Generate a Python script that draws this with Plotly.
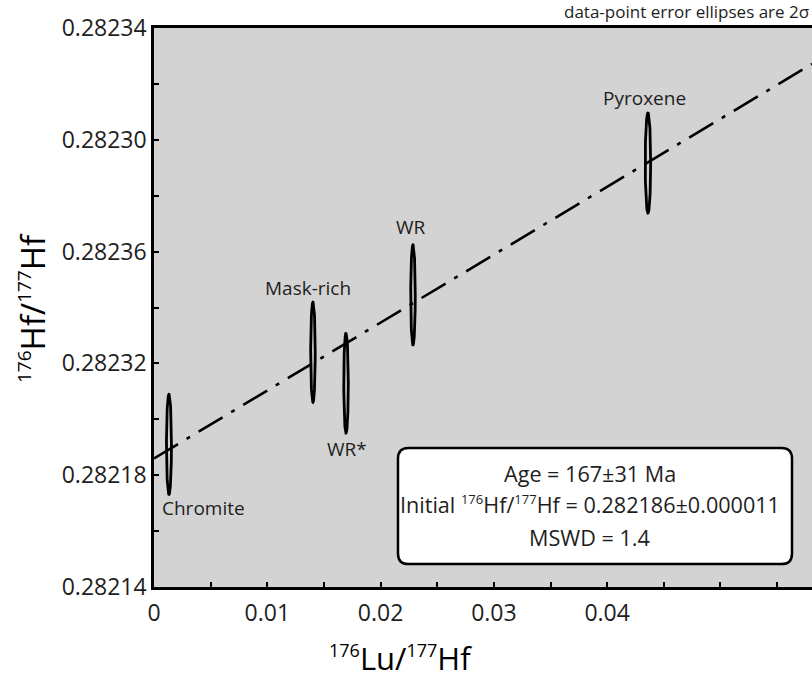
import numpy as np
import plotly.graph_objects as go

# ---- data ----
samples = ["Chromite", "Mask-rich", "WR*", "WR", "Pyroxene"]
lu_hf = [0.00132, 0.01403, 0.01695, 0.02286, 0.04360]          # 176Lu/177Hf
hf_hf = [0.282191, 0.282224, 0.282213, 0.2822445, 0.2822917]   # 176Hf/177Hf
lu_err2s = [0.00022, 0.00020, 0.00020, 0.00020, 0.00024]
hf_err2s = [0.0000179, 0.0000179, 0.0000179, 0.0000179, 0.0000179]

initial_hf = 0.282186
isochron_slope = 0.00243

y_tickvals = [0.28214, 0.28218, 0.28222, 0.28226, 0.28230, 0.28234]
y_ticktext = ["0.28214", "0.28218", "0.28232", "0.28236", "0.28230", "0.28234"]
x_tickvals = [0, 0.01, 0.02, 0.03, 0.04]
x_ticktext = ["0", "0.01", "0.02", "0.03", "0.04"]

x_range = [0, 0.05808]
y_range = [0.28214, 0.28234]

FONT = "Open Sans"

fig = go.Figure()

# isochron line
xl = np.array(x_range)
fig.add_trace(go.Scatter(
    x=xl, y=initial_hf + isochron_slope * xl, mode="lines",
    line=dict(color="black", width=2.6, dash="28px,10px,4px,10px"),
    hoverinfo="skip", showlegend=False))

# error ellipses
t = np.linspace(0, 2 * np.pi, 120)
for name, cx, cy, ex, ey in zip(samples, lu_hf, hf_hf, lu_err2s, hf_err2s):
    fig.add_trace(go.Scatter(
        x=cx + ex * np.cos(t), y=cy + ey * np.sin(t), mode="lines",
        line=dict(color="black", width=2.8), name=name, showlegend=False))

# sample labels
label_cfg = {
    "Chromite": dict(pos="below", xshift=35, yshift=-14),
    "Mask-rich": dict(pos="above", xshift=-5, yshift=14),
    "WR*": dict(pos="below", xshift=1, yshift=-16),
    "WR": dict(pos="above", xshift=-2, yshift=18),
    "Pyroxene": dict(pos="above", xshift=-3, yshift=15),
}
for name, cx, cy, ey in zip(samples, lu_hf, hf_hf, hf_err2s):
    c = label_cfg[name]
    yy = cy + ey if c["pos"] == "above" else cy - ey
    fig.add_annotation(x=cx, y=yy, text=name, showarrow=False,
                       xshift=c["xshift"], yshift=c["yshift"],
                       xanchor="center", yanchor="middle",
                       font=dict(family=FONT, size=19, color="#1e1e1e"))

# rounded result box (paper coords)
x0, x1, y0, y1 = 0.3708, 0.9696, 0.0411, 0.2487
rx, ry = 0.016, 0.019
path = (f"M {x0+rx},{y0} L {x1-rx},{y0} Q {x1},{y0} {x1},{y0+ry} "
        f"L {x1},{y1-ry} Q {x1},{y1} {x1-rx},{y1} L {x0+rx},{y1} "
        f"Q {x0},{y1} {x0},{y1-ry} L {x0},{y0+ry} Q {x0},{y0} {x0+rx},{y0} Z")
fig.add_shape(type="path", path=path, xref="paper", yref="paper",
              fillcolor="white", line=dict(color="black", width=2.5), layer="above")


def sup(s, size):
    return f"<sup><span style='font-size:{size}px'>{s}</span></sup>"


box_lines = ["Age = 167±31 Ma",
             f"Initial {sup('176', 13)}Hf/{sup('177', 13)}Hf = 0.282186±0.000011",
             "MSWD = 1.4"]
for txt, yp in zip(box_lines, [0.2039, 0.1467, 0.0894]):
    fig.add_annotation(x=0.6626, y=yp, xref="paper", yref="paper", text=txt,
                       showarrow=False, xanchor="center", yanchor="middle",
                       font=dict(family=FONT, size=21.6, color="#1e1e1e"))

fig.add_annotation(x=1.0, y=1.0, xref="paper", yref="paper",
                   text="data-point error ellipses are 2σ", showarrow=False,
                   xanchor="right", yanchor="bottom", yshift=3, xshift=-1,
                   font=dict(family=FONT, size=17, color="#1e1e1e"))

# axis titles (placed as in the reference, centred on the original wider frame)
fig.add_annotation(x=(400 - 154) / 658, y=(587 - 658) / 559, xref="paper", yref="paper",
                   text=f"{sup('176', 18)}Lu/{sup('177', 18)}Hf", showarrow=False,
                   xanchor="center", yanchor="middle",
                   font=dict(family=FONT, size=31, color="black"))
fig.add_annotation(x=(32 - 154) / 658, y=(587 - 308) / 559, xref="paper", yref="paper",
                   text=f"{sup('176', 19)}Hf/{sup('177', 19)}Hf", showarrow=False,
                   textangle=-90, xanchor="center", yanchor="middle",
                   font=dict(family=FONT, size=33, color="black"))

axis_common = dict(showline=True, linecolor="black", linewidth=2.5,
                   ticks="inside", ticklen=5, tickwidth=2, tickcolor="black",
                   showgrid=False, zeroline=False,
                   tickfont=dict(family=FONT, size=23, color="#1e1e1e"))

fig.update_xaxes(range=x_range, tickvals=x_tickvals, ticktext=x_ticktext,
                 mirror=True, ticklabelstandoff=4,
                 minor=dict(dtick=0.005, tick0=0, ticks="inside", ticklen=5,
                            tickwidth=2, tickcolor="black"),
                 **axis_common)
fig.update_yaxes(range=y_range, tickvals=y_tickvals, ticktext=y_ticktext,
                 minor=dict(dtick=0.00002, tick0=0.28214, ticks="inside", ticklen=5,
                            tickwidth=2, tickcolor="black"),
                 **axis_common)

fig.update_layout(width=812, height=678,
                  margin=dict(l=154, r=0, t=28, b=91),
                  paper_bgcolor="white", plot_bgcolor="#d3d3d3",
                  showlegend=False)

fig.write_html("out.html")
